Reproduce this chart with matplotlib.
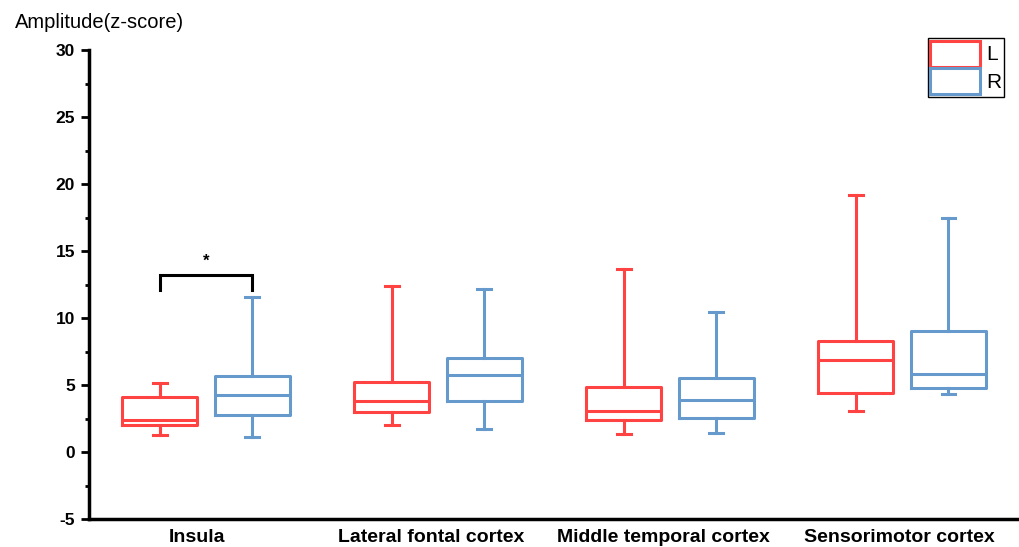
import matplotlib
matplotlib.use('Agg')
import matplotlib.pyplot as plt
from matplotlib.patches import Patch
from matplotlib.ticker import MultipleLocator

plt.rcParams['font.family'] = ['Liberation Sans', 'DejaVu Sans']
plt.rcParams['axes.unicode_minus'] = False

# data
regions = ['Insula', 'Lateral fontal cortex', 'Middle temporal cortex', 'Sensorimotor cortex']
# whislo, q1, median, q3, whishi
left_stats = [
    [1.27, 2.0, 2.4, 4.1, 5.15],
    [2.0, 3.0, 3.8, 5.25, 12.4],
    [1.34, 2.4, 3.06, 4.85, 13.66],
    [3.06, 4.4, 6.87, 8.28, 19.2],
]
right_stats = [
    [1.12, 2.76, 4.25, 5.67, 11.57],
    [1.7, 3.8, 5.75, 7.0, 12.2],
    [1.4, 2.54, 3.9, 5.5, 10.45],
    [4.33, 4.78, 5.8, 9.0, 17.5],
]
sig_y = 13.2
sig_drop = 1.1

red = '#ff4242'
blue = '#6699cc'


def to_bxp(rows):
    return [dict(whislo=r[0], q1=r[1], med=r[2], q3=r[3], whishi=r[4], fliers=[]) for r in rows]


fig = plt.figure(figsize=(10.19, 5.47), dpi=100)
ax = fig.add_axes([89 / 1019, 28 / 547, 930 / 1019, 469 / 547])

pos = list(range(len(regions)))
off = 0.2
lw = 2.2
for stats, color, sgn in [(left_stats, red, -1), (right_stats, blue, 1)]:
    ps = [p + sgn * off for p in pos]
    style = dict(color=color, linewidth=lw)
    ax.bxp(to_bxp(stats), positions=ps, widths=0.323, capwidths=0.06,
           showfliers=False, boxprops=style, whiskerprops=style,
           capprops=style, medianprops=style, manage_ticks=False)

# significance bracket for insula
x1, x2 = pos[0] - off, pos[0] + off
ax.plot([x1, x1, x2, x2], [sig_y - sig_drop, sig_y, sig_y, sig_y - sig_drop],
        color='black', linewidth=lw, solid_joinstyle='miter')
ax.text((x1 + x2) / 2, sig_y + 0.5, '*', ha='center', va='bottom', fontsize=12, fontweight='bold')

ax.set_xlim(-0.504, 3.504)
ax.set_ylim(-5, 30)
# labels sit a little left of the group centres in the original
label_shift = [-0.04, -0.03, -0.03, -0.01]
ax.set_xticks([p + s for p, s in zip(pos, label_shift)])
ax.set_xticklabels(regions, fontsize=14, fontweight='bold')
ax.tick_params(axis='x', length=0, pad=7)
ax.yaxis.set_major_locator(MultipleLocator(5))
ax.yaxis.set_minor_locator(MultipleLocator(2.5))
ax.tick_params(axis='y', which='major', length=6, width=2, labelsize=12.5, pad=4)
ax.tick_params(axis='y', which='minor', length=3, width=2)
for lab in ax.get_yticklabels():
    lab.set_fontweight('bold')

for side in ['top', 'right']:
    ax.spines[side].set_visible(False)
for side in ['left', 'bottom']:
    ax.spines[side].set_linewidth(2.5)

fig.text(15 / 1019, 1 - 22 / 547, 'Amplitude(z-score)', fontsize=14.5, va='center', ha='left')

handles = [Patch(facecolor='white', edgecolor=red, linewidth=lw, label='L'),
           Patch(facecolor='white', edgecolor=blue, linewidth=lw, label='R')]
leg = ax.legend(handles=handles, loc='upper right', bbox_to_anchor=(1004 / 1019, 1 - 38 / 547),
                bbox_transform=fig.transFigure, fontsize=15, handlelength=2.4, handleheight=1.55,
                labelspacing=0.08, handletextpad=0.3, borderpad=0.12, borderaxespad=0,
                fancybox=False, framealpha=1)
leg.get_frame().set_edgecolor('black')
leg.get_frame().set_linewidth(1)

fig.savefig('out.png', dpi=100)
